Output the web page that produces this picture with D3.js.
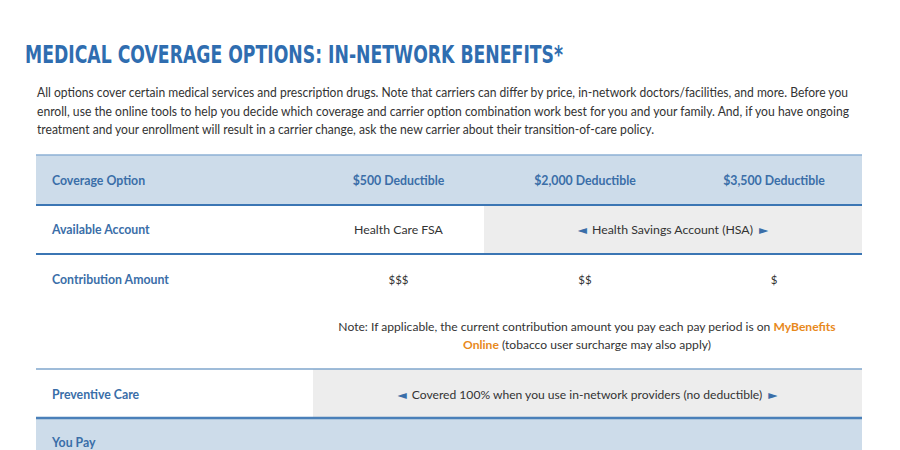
<!DOCTYPE html>
<html><head><meta charset="utf-8">
<script src="https://cdn.jsdelivr.net/npm/d3@7"></script>
<style>
html,body{margin:0;padding:0;background:#fff;}
svg{display:block;}
</style></head>
<body>
<svg id="c" width="900" height="450"></svg>
<script>
// ---- data ----
const title = "MEDICAL COVERAGE OPTIONS: IN-NETWORK BENEFITS*";
const introLines = [
  "All options cover certain medical services and prescription drugs. Note that carriers can differ by price, in-network doctors/facilities, and more. Before you",
  "enroll, use the online tools to help you decide which coverage and carrier option combination work best for you and your family. And, if you have ongoing",
  "treatment and your enrollment will result in a carrier change, ask the new carrier about their transition-of-care policy."
];
const headerCells = ["Coverage Option", "$500 Deductible", "$2,000 Deductible", "$3,500 Deductible"];
const rowLabels = ["Available Account", "Contribution Amount", "Preventive Care", "You Pay"];
const accountFSA = "Health Care FSA";
const accountHSA = "Health Savings Account (HSA)";
const contributionValues = ["$$$", "$$", "$"];
const noteLine1 = "Note: If applicable, the current contribution amount you pay each pay period is on ";
const noteLink1 = "MyBenefits";
const noteLink2 = "Online";
const noteLine2 = " (tobacco user surcharge may also apply)";
const preventiveText = "Covered 100% when you use in-network providers (no deductible)";

// ---- layout ----
const svg = d3.select("#c");
const blue = "#3a6ea8", text = "#333", hdrBg = "#cddcea", grayBg = "#ededed", orange = "#e8891c";
const colEdges = [36, 313, 484, 686, 862];
const colX = i => colEdges[i];
const colMid = i => (colEdges[i] + colEdges[i + 1]) / 2;
const rowEdges = [155, 205, 254, 369, 418, 470];
const y = d3.scaleOrdinal().domain(["hdr","acct","contrib","prev","pay","end"]).range(rowEdges);

// title
svg.append("text").attr("x", 25).attr("y", 63)
  .attr("font-family", "DejaVu Sans Condensed, DejaVu Sans").attr("font-weight", "bold")
  .attr("font-size", 24.5).attr("fill", "#2f6db0")
  .attr("textLength", 538).attr("lengthAdjust", "spacingAndGlyphs")
  .text(title);

// intro
const introW = [811, 812, 617];
svg.selectAll("text.intro").data(introLines).join("text").attr("class", "intro")
  .attr("x", 37).attr("y", (d, i) => 97 + i * 18.5)
  .attr("font-family", "Lato").attr("font-size", 12.6).attr("fill", text)
  .attr("textLength", (d, i) => introW[i]).attr("lengthAdjust", "spacingAndGlyphs")
  .text(d => d);

// backgrounds
svg.append("rect").attr("x", colX(0)).attr("y", y("hdr")).attr("width", colX(4) - colX(0))
  .attr("height", y("acct") - y("hdr")).attr("fill", hdrBg);
svg.append("rect").attr("x", colX(2)).attr("y", y("acct")).attr("width", colX(4) - colX(2))
  .attr("height", y("contrib") - y("acct")).attr("fill", grayBg);
svg.append("rect").attr("x", colX(1)).attr("y", y("prev")).attr("width", colX(4) - colX(1))
  .attr("height", y("pay") - y("prev")).attr("fill", grayBg);
svg.append("rect").attr("x", colX(0)).attr("y", y("pay")).attr("width", colX(4) - colX(0))
  .attr("height", 450 - y("pay")).attr("fill", hdrBg);

// lines
const lines = [
  {k: "hdr", c: "#8cb0d4", w: 1.6},
  {k: "acct", c: "#3b76b4", w: 2.2},
  {k: "contrib", c: "#3b76b4", w: 2},
  {k: "prev", c: "#7fa6cd", w: 1.6},
  {k: "pay", c: "#4a80b9", w: 2.4}
];
svg.selectAll("line.sep").data(lines).join("line").attr("class", "sep")
  .attr("x1", colX(0)).attr("x2", colX(4))
  .attr("y1", d => y(d.k)).attr("y2", d => y(d.k))
  .attr("stroke", d => d.c).attr("stroke-width", d => d.w);

const ff = "Lato";
const fs = 12.3;
// header
svg.selectAll("text.hdr").data(headerCells).join("text").attr("class", "hdr")
  .attr("x", (d, i) => i === 0 ? 52 : colMid(i))
  .attr("text-anchor", (d, i) => i === 0 ? "start" : "middle")
  .attr("y", 185).attr("font-family", ff).attr("font-weight", "bold")
  .attr("font-size", fs).attr("fill", blue).text(d => d);

// row labels
const labelY = [234, 284, 399, 447];
svg.selectAll("text.lbl").data(rowLabels).join("text").attr("class", "lbl")
  .attr("x", 52).attr("y", (d, i) => labelY[i])
  .attr("font-family", ff).attr("font-weight", "bold")
  .attr("font-size", fs).attr("fill", blue).text(d => d);

function arrowText(sel, str) {
  sel.append("tspan").attr("fill", blue).attr("font-family", "DejaVu Sans").attr("font-size", 12).text("◄");
  sel.append("tspan").attr("dx", 5).text(str);
  sel.append("tspan").attr("dx", 6).attr("fill", blue).attr("font-family", "DejaVu Sans").attr("font-size", 12).text("►");
}

// account row
svg.append("text").attr("x", colMid(1)).attr("y", 234).attr("text-anchor", "middle")
  .attr("font-family", ff).attr("font-size", fs).attr("fill", text).text(accountFSA);
const hsa = svg.append("text").attr("x", (colX(2) + colX(4)) / 2).attr("y", 234).attr("text-anchor", "middle")
  .attr("font-family", ff).attr("font-size", fs).attr("fill", text);
arrowText(hsa, accountHSA);

// contribution row
svg.selectAll("text.contrib").data(contributionValues).join("text").attr("class", "contrib")
  .attr("x", (d, i) => colMid(i + 1)).attr("y", 284).attr("text-anchor", "middle")
  .attr("font-family", ff).attr("font-size", 11.5).attr("fill", text).text(d => d);

// note
const noteX = 587;
const n1 = svg.append("text").attr("x", noteX).attr("y", 331).attr("text-anchor", "middle")
  .attr("font-family", ff).attr("font-size", 12.1).attr("fill", text);
n1.append("tspan").text(noteLine1);
n1.append("tspan").attr("fill", orange).attr("font-weight", "bold").text(noteLink1);
const n2 = svg.append("text").attr("x", noteX).attr("y", 349).attr("text-anchor", "middle")
  .attr("font-family", ff).attr("font-size", 12.1).attr("fill", text);
n2.append("tspan").attr("fill", orange).attr("font-weight", "bold").text(noteLink2);
n2.append("tspan").text(noteLine2);

// preventive
const pv = svg.append("text").attr("x", (colX(1) + colX(4)) / 2).attr("y", 399).attr("text-anchor", "middle")
  .attr("font-family", ff).attr("font-size", 12.1).attr("fill", text);
arrowText(pv, preventiveText);
</script>
</body></html>
